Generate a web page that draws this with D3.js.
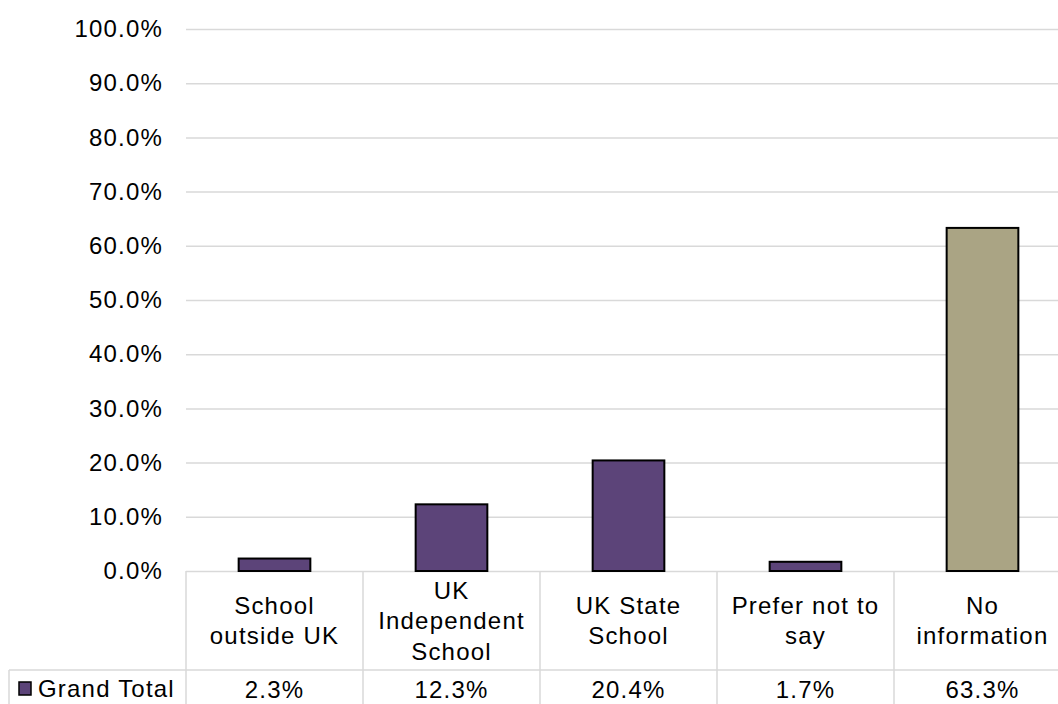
<!DOCTYPE html>
<html>
<head>
<meta charset="utf-8">
<script src="https://cdn.jsdelivr.net/npm/d3@7"></script>
<style>
  html, body { margin: 0; padding: 0; background: #ffffff; }
  svg { display: block; }
  text { font-family: "Liberation Sans", Arial, sans-serif; fill: #000; }
</style>
</head>
<body>
<svg id="chart" width="1058" height="704"></svg>
<script>
// Share of students by school type
const categories = ["School outside UK", "UK Independent School", "UK State School", "Prefer not to say", "No information"];
const categoryLines = [["School", "outside UK"], ["UK", "Independent", "School"], ["UK State", "School"], ["Prefer not to", "say"], ["No", "information"]];
const values = [0.023, 0.123, 0.204, 0.017, 0.633];
const seriesName = "Grand Total";
const yTicks = [0, 0.1, 0.2, 0.3, 0.4, 0.5, 0.6, 0.7, 0.8, 0.9, 1.0];

const svg = d3.select("#chart");
const fontSize = 24, spacing = 1.2;
const purple = "#5c4479", tan = "#aaa484", gridColor = "#d9d9d9";

const plotLeft = 186, plotRight = 1071, plotTop = 29, zeroY = 571;
const rowSplit = 670, tableLeft = 9, tableBottom = 740;

const x = d3.scaleBand().domain(categories).range([plotLeft, plotRight]).paddingInner(0).paddingOuter(0);
const y = d3.scaleLinear().domain([0, 1]).range([zeroY, plotTop]);
const fmt = d3.format(".1%");

// gridlines and y tick labels
const yAxis = svg.append("g")
  .attr("transform", `translate(${plotLeft},0)`)
  .call(d3.axisLeft(y).tickValues(yTicks).tickFormat(fmt).tickSize(-(plotRight - plotLeft)).tickPadding(23));
yAxis.select(".domain").remove();
yAxis.selectAll(".tick line").attr("stroke", gridColor).attr("stroke-width", 1.5);
yAxis.selectAll(".tick text")
  .style("font-size", fontSize + "px")
  .style("letter-spacing", spacing + "px")
  .style("font-family", "'Liberation Sans', Arial, sans-serif")
  .attr("fill", "#000");

// data table grid
const grid = svg.append("g").attr("stroke", gridColor).attr("stroke-width", 1.5).attr("fill", "none");
grid.append("line").attr("x1", tableLeft).attr("x2", plotRight).attr("y1", rowSplit).attr("y2", rowSplit);
grid.append("line").attr("x1", tableLeft).attr("x2", tableLeft).attr("y1", rowSplit).attr("y2", tableBottom);
const bounds = categories.map(c => x(c)).concat([plotRight]);
grid.selectAll("line.sep").data(bounds).join("line").attr("class", "sep")
  .attr("x1", d => d).attr("x2", d => d).attr("y1", zeroY).attr("y2", tableBottom);

// bars
const barW = x.bandwidth() * 0.405;
svg.append("g").selectAll("rect").data(categories).join("rect")
  .attr("x", d => x(d) + (x.bandwidth() - barW) / 2)
  .attr("y", (d, i) => y(values[i]))
  .attr("width", barW)
  .attr("height", (d, i) => zeroY - y(values[i]))
  .attr("fill", (d, i) => i === categories.length - 1 ? tan : purple)
  .attr("stroke", "#000")
  .attr("stroke-width", 2);

// category labels in the first table row
const lineGap = 30.5, rowMid = (zeroY + rowSplit) / 2;
const labels = svg.append("g").attr("text-anchor", "middle")
  .style("font-size", fontSize + "px").style("letter-spacing", spacing + "px");
categories.forEach((c, i) => {
  const lines = categoryLines[i];
  lines.forEach((ln, j) => {
    labels.append("text")
      .attr("x", x(c) + x.bandwidth() / 2)
      .attr("y", rowMid + 8.5 + (j - (lines.length - 1) / 2) * lineGap)
      .text(ln);
  });
});

// value row
const valueRow = svg.append("g").attr("text-anchor", "middle")
  .style("font-size", fontSize + "px").style("letter-spacing", spacing + "px");
valueRow.selectAll("text").data(categories).join("text")
  .attr("x", d => x(d) + x.bandwidth() / 2)
  .attr("y", 698)
  .text((d, i) => fmt(values[i]));

// legend key for the series row
svg.append("rect").attr("x", 19).attr("y", 682).attr("width", 12).attr("height", 13)
  .attr("fill", purple).attr("stroke", "#000").attr("stroke-width", 1.5);
svg.append("text").attr("x", 38).attr("y", 697)
  .style("font-size", fontSize + "px").style("letter-spacing", spacing + "px")
  .text(seriesName);
</script>
</body>
</html>
